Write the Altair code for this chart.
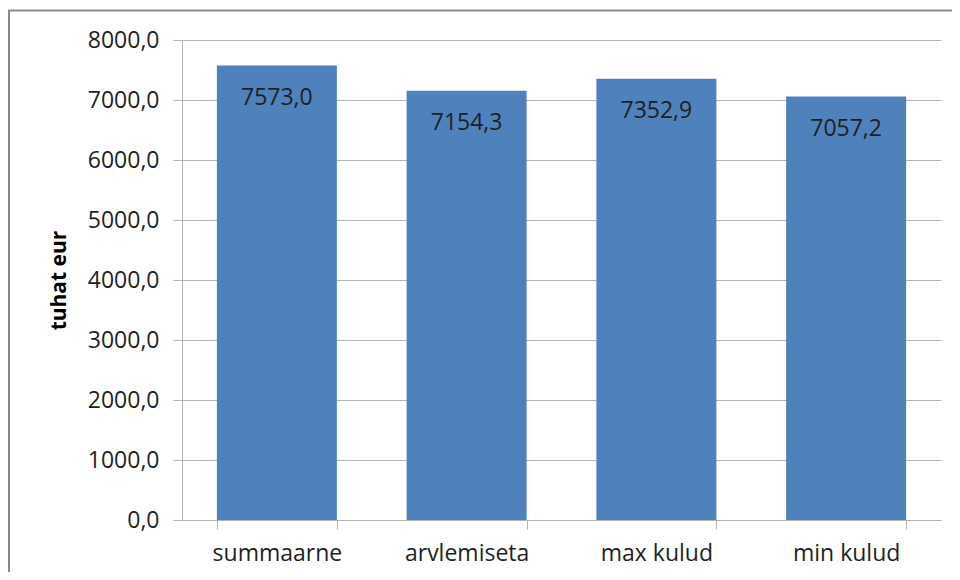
import altair as alt
import pandas as pd

categories = ["summaarne", "arvlemiseta", "max kulud", "min kulud"]
values = [7573.0, 7154.3, 7352.9, 7057.2]
y_ticks = [0, 1000, 2000, 3000, 4000, 5000, 6000, 7000, 8000]

df = pd.DataFrame({"kategooria": categories, "vaartus": values})

FONT = "Open Sans"
BAR = "#4F81BD"
GRID = "#b4b4b4"
TXT = "#1f1f1f"

x_enc = alt.X(
    "kategooria:N",
    sort=categories,
    scale=alt.Scale(paddingInner=0.3676, paddingOuter=0.1838),
    axis=alt.Axis(
        title=None,
        labelAngle=0,
        labelFont=FONT,
        labelFontSize=23,
        labelColor=TXT,
        labelPadding=13,
        tickBand="extent",
        tickSize=9,
        tickColor=GRID,
        domainColor=GRID,
        grid=False,
    ),
)

y_enc = alt.Y(
    "vaartus:Q",
    scale=alt.Scale(domain=[0, 8000], nice=False),
    axis=alt.Axis(
        title="tuhat eur",
        titleFont=FONT,
        titleFontSize=21,
        titleFontWeight="bold",
        titleColor="#000000",
        titlePadding=18,
        values=y_ticks,
        labelExpr="replace(format(datum.value, '.1f'), '.', ',')",
        labelFont=FONT,
        labelFontSize=23,
        labelColor=TXT,
        labelPadding=14,
        tickSize=9,
        tickColor=GRID,
        domainColor=GRID,
        gridColor=GRID,
        grid=True,
    ),
)

base = alt.Chart(df).encode(x=x_enc, y=y_enc)

bars = base.mark_bar(color=BAR)

labels = base.transform_calculate(
    tekst="replace(format(datum.vaartus, '.1f'), '.', ',')"
).mark_text(
    baseline="middle", dy=32, font=FONT, fontSize=23, color=TXT
).encode(text="tekst:N")

frame_data = alt.Data(values=[{"a": 1}])
frame_left = alt.Chart(frame_data).mark_rule(color="#8a8a8a", strokeWidth=2).encode(
    x=alt.value(-173), y=alt.value(-29.5), y2=alt.value(560)
)
frame_top = alt.Chart(frame_data).mark_rule(color="#8a8a8a", strokeWidth=2).encode(
    x=alt.value(-174), x2=alt.value(800), y=alt.value(-29.5)
)

chart = alt.layer(bars, labels, frame_left, frame_top).properties(
    width=759,
    height=480,
    autosize=alt.AutoSizeParams(type="none"),
    padding={"left": 174, "top": 32, "right": 11, "bottom": 52},
    background="white",
).configure_view(stroke=None)

chart.save("out.html", embed_options={"renderer": "svg", "actions": False})
